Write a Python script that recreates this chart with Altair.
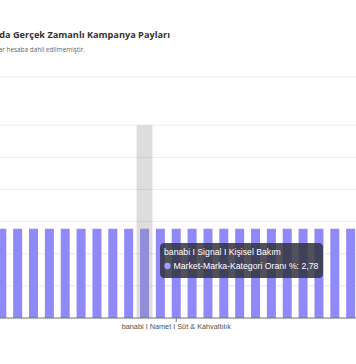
import altair as alt
import pandas as pd

# ---- data -------------------------------------------------------------
categories = [
    "banabi I Ülker I Atıştırmalık",
    "banabi I Eti I Atıştırmalık",
    "banabi I Pınar I Süt & Kahvaltılık",
    "banabi I Sütaş I Süt & Kahvaltılık",
    "banabi I Coca-Cola I İçecek",
    "banabi I Pepsi I İçecek",
    "banabi I Lipton I İçecek",
    "banabi I Nescafe I İçecek",
    "banabi I Colgate I Kişisel Bakım",
    "banabi I Signal I Kişisel Bakım",
    "banabi I Dove I Kişisel Bakım",
    "banabi I Namet I Süt & Kahvaltılık",
    "banabi I Torku I Süt & Kahvaltılık",
    "banabi I Fairy I Ev Bakım",
    "banabi I Omo I Ev Bakım",
    "banabi I Ariel I Ev Bakım",
    "banabi I Solo I Kağıt Ürünleri",
    "banabi I Selpak I Kağıt Ürünleri",
    "banabi I Filiz I Temel Gıda",
    "banabi I Barilla I Temel Gıda",
    "banabi I Tat I Temel Gıda",
    "banabi I Nutella I Kahvaltılık",
    "banabi I Doritos I Atıştırmalık",
]
values = [2.78, 2.78, 2.78, 2.78, 2.78, 2.78, 2.78, 2.78, 2.78, 2.78, 2.78, 2.78,
          2.78, 2.78, 2.78, 2.78, 2.78, 2.78, 2.78, 2.78, 2.78, 2.78, 2.78]

series_name = "Market-Marka-Kategori Oranı %"
hover_category = "banabi I Signal I Kişisel Bakım"
hover_value_text = "2,78"
shadow_top = [6.0]
shown_tick_labels = ["banabi I Namet I Süt & Kahvaltılık"]
grid_values = [1, 2, 3, 4, 5, 6, 7.5]
baseline_value = [0]
y_max = 7.5

title_text = "Market-Marka-Kategori Bazında Gerçek Zamanlı Kampanya Payları"
subtitle_text = "*Kampanyasız markalar hesaba dahil edilmemiştir."

BAR = "#8f8af7"
AXIS = "#6E7079"

df = pd.DataFrame({"category": categories, "value": values})
shadow_df = pd.DataFrame({"category": [hover_category], "top": shadow_top})
grid_df = pd.DataFrame({"g": grid_values})
base_df = pd.DataFrame({"b": baseline_value})
tick_df = pd.DataFrame({"category": shown_tick_labels})
tip_df = pd.DataFrame({
    "line1": [hover_category],
    "line2": [f"{series_name}: {hover_value_text}"],
})

x_scale = alt.Scale(domain=categories, range=[-6.13, 358.6],
                    paddingInner=0.432, paddingOuter=0.216)
y_scale = alt.Scale(domain=[0, y_max], nice=False)


def xcat():
    return alt.X("category:N", sort=categories, scale=x_scale, axis=None)


grid = alt.Chart(grid_df).mark_rule(color="#ebebf0", strokeWidth=1).encode(
    y=alt.Y("g:Q", scale=y_scale, axis=None),
    x=alt.value(-20), x2=alt.value(380),
)

bars = alt.Chart(df).mark_bar(color=BAR).encode(
    x=xcat(),
    y=alt.Y("value:Q", scale=y_scale, axis=None),
)

shadow = alt.Chart(shadow_df).mark_bar(
    color="#969696", opacity=0.32, width=alt.RelativeBandSize(1.76)
).encode(
    x=xcat(),
    y=alt.Y("top:Q", scale=y_scale, axis=None),
)

baseline = alt.Chart(base_df).mark_rule(color=AXIS, strokeWidth=1).encode(
    y=alt.Y("b:Q", scale=y_scale, axis=None),
    x=alt.value(-20), x2=alt.value(380),
)

tick = alt.Chart(tick_df).mark_rule(color=AXIS, strokeWidth=1).encode(
    x=xcat(), y=alt.value(241), y2=alt.value(245),
)

tick_label = alt.Chart(tick_df).mark_text(
    align="center", baseline="top", color="#505050", fontSize=7.3,
    font="Liberation Sans"
).encode(x=xcat(), y=alt.value(246), text="category:N")

tip_box = alt.Chart(tip_df).mark_rect(
    color="#32323f", opacity=0.85, cornerRadius=4
).encode(
    x=alt.value(160), x2=alt.value(323), y=alt.value(166), y2=alt.value(201)
)

tip_line1 = alt.Chart(tip_df).mark_text(
    align="left", baseline="middle", color="white", fontSize=8.7,
    font="Liberation Sans"
).encode(text="line1:N", x=alt.value(164), y=alt.value(175))

tip_dot = alt.Chart(tip_df).mark_point(
    filled=True, color="#a29df9", size=40, opacity=1, shape="circle"
).encode(x=alt.value(167.5), y=alt.value(189))

tip_line2 = alt.Chart(tip_df).mark_text(
    align="left", baseline="middle", color="white", fontSize=8.7,
    font="Liberation Sans"
).encode(text="line2:N", x=alt.value(173.5), y=alt.value(189))

title_mark = alt.Chart(pd.DataFrame({"t": [title_text]})).mark_text(
    align="right", baseline="middle", color="#333333", fontSize=9.2,
    fontWeight="bold", font="Open Sans"
).encode(text="t:N", x=alt.value(170), y=alt.value(-42))

subtitle_mark = alt.Chart(pd.DataFrame({"t": [subtitle_text]})).mark_text(
    align="right", baseline="middle", color="#666666", fontSize=6.4,
    font="Open Sans"
).encode(text="t:N", x=alt.value(85), y=alt.value(-27.5))

chart = alt.layer(
    grid, bars, shadow, baseline, tick, tick_label,
    tip_box, tip_line1, tip_dot, tip_line2,
    title_mark, subtitle_mark
).properties(
    width=356, height=241,
    autosize=alt.AutoSizeParams(type="none"),
    padding={"left": 0, "top": 77, "right": 0, "bottom": 46},
    background="white",
).configure_view(stroke="transparent", strokeWidth=0)

chart.save("out.html", embed_options={"renderer": "svg", "actions": False})
